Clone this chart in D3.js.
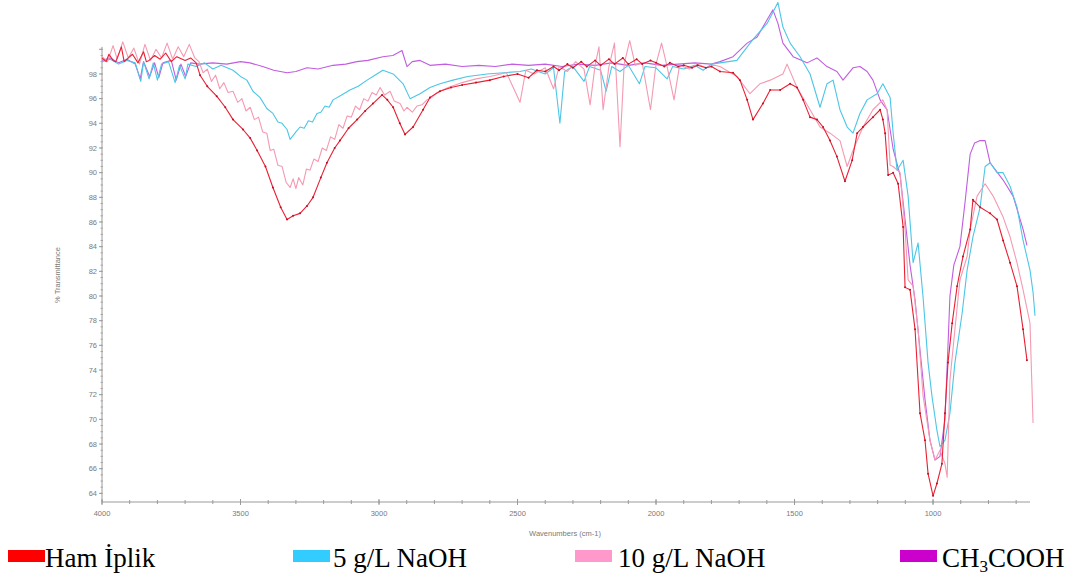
<!DOCTYPE html>
<html><head><meta charset="utf-8">
<script src="https://cdn.jsdelivr.net/npm/d3@7"></script>
<style>
html,body{margin:0;padding:0;background:#fff;}
svg{display:block;}
</style></head>
<body>
<svg id="c" width="1077" height="581"></svg>
<script>
// ---- data (wavenumber cm-1, % transmittance) ----
const xTicks = [4000, 3500, 3000, 2500, 2000, 1500, 1000];
const yTicks = [64,66,68,70,72,74,76,78,80,82,84,86,88,90,92,94,96,98];
const seriesNames = ["Ham İplik", "5 g/L NaOH", "10 g/L NaOH", "CH3COOH"];

const hamIplik = [[4000,99.3],[3985,99.0],[3975,99.6],[3960,99.1],[3950,99.0],[3930,100.2],[3920,99.0],[3910,99.2],[3890,99.6],[3870,98.9],[3850,99.8],[3840,99.0],[3830,99.1],[3810,99.5],[3790,99.2],[3770,99.7],[3750,99.0],[3730,99.4],[3700,99.1],[3680,99.3],[3660,98.9],[3646,97.9],[3620,97.0],[3586,96.2],[3555,95.3],[3527,94.3],[3491,93.5],[3465,92.8],[3440,91.8],[3410,90.5],[3383,88.8],[3355,87.2],[3332,86.2],[3310,86.5],[3285,86.7],[3260,87.3],[3238,88.0],[3210,89.6],[3188,90.8],[3160,92.0],[3141,92.6],[3110,93.6],[3079,94.3],[3050,95.0],[3022,95.6],[2989,96.3],[2970,95.9],[2949,95.3],[2925,94.0],[2906,93.1],[2877,93.7],[2841,95.1],[2816,96.1],[2780,96.6],[2740,96.9],[2700,97.1],[2650,97.3],[2600,97.5],[2550,97.8],[2500,98.0],[2460,97.7],[2430,98.3],[2400,98.2],[2370,98.6],[2350,98.3],[2320,98.8],[2300,98.5],[2270,99.0],[2250,98.6],[2220,99.1],[2200,98.7],[2170,99.2],[2150,98.8],[2120,99.3],[2100,98.8],[2070,99.2],[2050,98.8],[2020,99.1],[2000,98.9],[1970,98.6],[1950,98.9],[1920,98.6],[1900,98.7],[1870,98.5],[1850,98.7],[1820,98.5],[1800,98.6],[1769,98.2],[1722,98.1],[1697,97.5],[1671,95.9],[1650,94.3],[1614,95.6],[1588,96.7],[1552,96.7],[1516,97.2],[1491,96.9],[1469,95.9],[1444,94.5],[1419,94.3],[1397,93.7],[1372,92.6],[1347,91.3],[1318,89.3],[1292,91.0],[1274,93.2],[1253,93.7],[1217,94.5],[1191,95.1],[1181,94.3],[1173,93.2],[1162,89.8],[1144,90.0],[1126,89.1],[1108,85.6],[1101,80.7],[1083,80.5],[1065,77.3],[1047,70.5],[1029,68.3],[1018,65.6],[1000,63.8],[986,64.8],[968,66.4],[957,70.5],[946,74.6],[931,77.8],[913,80.8],[892,83.2],[866,85.4],[856,87.8],[830,87.2],[794,86.7],[769,86.2],[747,84.5],[722,82.7],[697,80.8],[675,77.3],[661,74.8]];

const naoh5 = [[4000,99.0],[3970,99.2],[3940,98.8],[3910,99.1],[3880,98.9],[3860,97.4],[3850,99.0],[3830,97.6],[3815,98.9],[3800,97.5],[3785,98.8],[3760,99.0],[3736,97.3],[3720,98.7],[3700,97.6],[3690,98.8],[3660,98.6],[3630,98.9],[3600,98.4],[3570,98.7],[3527,98.3],[3500,97.8],[3477,97.5],[3455,96.6],[3430,96.1],[3405,95.2],[3383,94.8],[3365,94.1],[3350,94.0],[3332,93.5],[3321,92.7],[3300,93.3],[3285,93.7],[3270,93.6],[3255,94.2],[3240,94.1],[3224,94.8],[3210,94.9],[3195,95.4],[3180,95.3],[3166,95.9],[3135,96.3],[3105,96.7],[3075,97.0],[3043,97.5],[3015,97.9],[2986,98.3],[2949,98.0],[2913,97.2],[2888,96.0],[2852,96.4],[2816,96.9],[2780,97.2],[2733,97.5],[2680,97.8],[2610,98.0],[2550,98.1],[2491,98.2],[2450,98.4],[2400,98.0],[2370,98.5],[2347,94.0],[2330,98.2],[2300,98.6],[2260,97.4],[2240,98.6],[2200,98.3],[2180,96.6],[2160,98.6],[2130,98.2],[2100,98.7],[2060,97.2],[2040,98.6],[2000,98.5],[1960,97.6],[1940,98.6],[1900,98.4],[1860,98.7],[1830,98.3],[1800,98.8],[1769,98.9],[1708,99.1],[1650,100.8],[1599,102.1],[1560,103.8],[1542,101.8],[1516,100.5],[1480,99.4],[1444,98.0],[1408,95.3],[1383,97.2],[1361,97.5],[1336,95.1],[1310,93.7],[1289,93.2],[1264,94.8],[1238,95.9],[1202,96.4],[1181,97.2],[1155,96.1],[1144,93.2],[1130,90.2],[1108,91.0],[1090,88.1],[1072,82.7],[1054,84.3],[1036,79.9],[1018,74.6],[1004,71.9],[986,69.1],[975,67.8],[957,68.3],[939,70.5],[921,74.6],[895,78.6],[877,82.1],[856,84.8],[830,87.2],[812,90.5],[794,90.8],[769,90.0],[747,90.0],[722,88.9],[697,87.2],[675,84.5],[650,82.1],[639,80.3],[632,78.4]];

const naoh10 = [[4000,99.4],[3980,99.0],[3960,100.3],[3945,99.2],[3925,100.6],[3905,99.3],[3885,100.1],[3865,98.8],[3845,100.4],[3825,99.1],[3805,100.0],[3785,99.3],[3765,100.5],[3745,99.2],[3725,100.2],[3705,99.4],[3685,100.4],[3665,99.3],[3650,99.0],[3635,98.1],[3620,98.4],[3605,97.4],[3590,97.9],[3575,96.8],[3560,97.3],[3545,96.5],[3527,96.6],[3510,95.7],[3495,96.0],[3480,95.0],[3465,95.3],[3450,94.3],[3435,94.5],[3420,93.3],[3405,93.2],[3393,91.8],[3380,91.9],[3365,90.6],[3350,90.5],[3335,89.2],[3321,88.8],[3310,89.5],[3300,88.7],[3290,89.6],[3275,89.0],[3262,90.3],[3249,90.2],[3235,91.1],[3220,90.9],[3205,92.0],[3190,91.8],[3175,92.9],[3160,92.7],[3145,93.9],[3130,93.6],[3115,94.6],[3100,94.5],[3085,95.4],[3070,95.1],[3055,96.0],[3040,95.8],[3025,96.5],[3010,96.3],[2996,96.9],[2980,96.3],[2960,96.6],[2945,95.8],[2924,95.6],[2910,95.0],[2899,95.3],[2880,94.9],[2863,95.4],[2845,95.5],[2827,95.9],[2810,96.1],[2790,96.5],[2750,96.9],[2700,97.3],[2650,97.6],[2600,97.8],[2540,98.1],[2491,95.7],[2470,98.3],[2440,98.0],[2400,98.5],[2370,96.8],[2350,98.6],[2320,98.2],[2290,99.0],[2260,98.4],[2238,95.5],[2220,98.7],[2206,100.2],[2191,95.1],[2170,98.6],[2150,100.5],[2130,92.1],[2115,98.8],[2095,100.7],[2075,98.7],[2050,98.9],[2020,95.1],[2000,98.8],[1980,100.5],[1960,98.6],[1935,95.9],[1915,98.7],[1880,98.4],[1850,98.8],[1820,98.5],[1790,98.7],[1769,98.6],[1708,97.8],[1661,96.4],[1625,97.2],[1588,97.5],[1542,98.0],[1527,98.8],[1491,96.9],[1444,95.1],[1408,93.7],[1372,93.2],[1336,92.6],[1310,90.5],[1289,91.8],[1253,93.7],[1217,95.1],[1181,95.9],[1166,95.1],[1155,90.6],[1144,90.5],[1119,90.0],[1101,85.4],[1090,81.3],[1072,80.8],[1054,77.3],[1036,71.9],[1011,68.3],[993,66.7],[975,67.5],[957,66.4],[949,65.3],[939,73.2],[921,77.3],[903,81.3],[877,83.2],[866,85.4],[841,88.1],[812,89.1],[783,88.1],[747,86.4],[722,84.8],[697,82.7],[675,80.5],[650,77.8],[639,69.7]];

const ch3cooh = [[4000,99.1],[3970,99.3],[3940,98.9],[3910,99.2],[3880,98.8],[3862,97.6],[3850,99.0],[3828,97.8],[3810,98.9],[3795,97.7],[3780,98.9],[3750,99.1],[3732,97.5],[3715,98.8],[3698,97.8],[3680,98.9],[3650,98.8],[3600,98.9],[3550,98.8],[3500,99.0],[3466,98.9],[3420,98.6],[3380,98.3],[3332,98.1],[3300,98.2],[3260,98.5],[3220,98.4],[3166,98.7],[3120,98.8],[3080,99.0],[3040,99.1],[2986,99.4],[2950,99.5],[2917,99.9],[2899,98.6],[2880,99.0],[2852,99.1],[2816,98.7],[2760,98.8],[2700,98.6],[2640,98.7],[2580,98.6],[2520,98.8],[2460,98.7],[2400,98.8],[2340,98.6],[2280,98.8],[2220,98.7],[2160,98.9],[2100,98.7],[2040,98.9],[1980,98.7],[1920,98.8],[1860,98.9],[1800,98.8],[1769,99.0],[1722,99.4],[1671,100.5],[1635,101.0],[1599,102.4],[1578,103.2],[1560,102.1],[1542,100.5],[1505,99.4],[1455,98.9],[1419,99.3],[1383,98.6],[1347,98.2],[1325,97.5],[1289,98.5],[1264,98.6],[1238,98.2],[1217,97.5],[1191,95.9],[1173,95.3],[1166,95.1],[1144,91.9],[1119,89.8],[1101,86.2],[1083,82.5],[1065,79.7],[1047,75.6],[1029,71.6],[1011,68.3],[993,66.7],[975,67.0],[957,70.0],[946,76.0],[939,80.0],[925,82.5],[903,84.0],[885,87.5],[866,91.5],[850,92.4],[830,92.6],[812,92.6],[794,90.8],[747,89.4],[711,88.1],[675,85.4],[661,84.1]];

// ---- drawing ----
const svg = d3.select("#c");
const x = d3.scaleLinear().domain([4000, 650]).range([102, 1030]);
const y = d3.scaleLinear().domain([100, 63.3]).range([49.3, 502]);
const axisColor = "#9a9a9a", labelColor = "#7a7a7a";

// axes lines
svg.append("line").attr("x1", x(4000)).attr("x2", x(650)).attr("y1", y(63.3)).attr("y2", y(63.3))
  .attr("stroke", axisColor).attr("stroke-width", 1);
svg.append("line").attr("x1", x(4000)).attr("x2", x(4000)).attr("y1", y(100.2)).attr("y2", y(63.3))
  .attr("stroke", axisColor).attr("stroke-width", 1);

// x ticks
const xMinor = d3.range(4000, 649, -100);
svg.append("g").selectAll("line").data(xMinor).join("line")
  .attr("x1", d => x(d)).attr("x2", d => x(d))
  .attr("y1", y(63.3) - 2).attr("y2", y(63.3) + 2)
  .attr("stroke", axisColor);
svg.append("g").selectAll("line").data(xTicks).join("line")
  .attr("x1", d => x(d)).attr("x2", d => x(d))
  .attr("y1", y(63.3) - 3).attr("y2", y(63.3) + 3).attr("stroke", axisColor);
svg.append("g").selectAll("text").data(xTicks).join("text")
  .attr("x", d => x(d)).attr("y", y(63.3) + 14).attr("text-anchor", "middle")
  .attr("font-family", "Arial, 'Liberation Sans', sans-serif").attr("font-size", 7.5)
  .attr("fill", labelColor).text(d => d);

// y ticks
const yMinor = d3.range(64, 100.01, 0.5);
svg.append("g").selectAll("line").data(yMinor).join("line")
  .attr("x1", x(4000) - 1.5).attr("x2", x(4000) + 1)
  .attr("y1", d => y(d)).attr("y2", d => y(d)).attr("stroke", axisColor).attr("stroke-width", 0.8);
svg.append("g").selectAll("line").data(yTicks.concat([100])).join("line")
  .attr("x1", x(4000) - 3).attr("x2", x(4000))
  .attr("y1", d => y(d)).attr("y2", d => y(d)).attr("stroke", axisColor);
svg.append("g").selectAll("text").data(yTicks).join("text")
  .attr("x", x(4000) - 5).attr("y", d => y(d) + 2.6).attr("text-anchor", "end")
  .attr("font-family", "Arial, 'Liberation Sans', sans-serif").attr("font-size", 7.5)
  .attr("fill", labelColor).text(d => d);

// axis titles
svg.append("text").attr("x", 565).attr("y", 536).attr("text-anchor", "middle")
  .attr("font-family", "Arial, 'Liberation Sans', sans-serif").attr("font-size", 7.5)
  .attr("fill", labelColor).text("Wavenumbers (cm-1)");
svg.append("text").attr("transform", "translate(60,275) rotate(-90)").attr("text-anchor", "middle")
  .attr("font-family", "Arial, 'Liberation Sans', sans-serif").attr("font-size", 7.5)
  .attr("fill", labelColor).text("% Transmittance");

// lines
const line = d3.line().x(d => x(d[0])).y(d => y(d[1]));
const series = [
  {data: ch3cooh, color: "#c25ce0"},
  {data: naoh5, color: "#4cc6e6"},
  {data: naoh10, color: "#f59ab2"},
  {data: hamIplik, color: "#ea2033"}
];
svg.append("g").selectAll("path").data(series).join("path")
  .attr("d", d => line(d.data)).attr("fill", "none")
  .attr("stroke", d => d.color).attr("stroke-width", 1.1).attr("stroke-linejoin", "round");
svg.append("g").selectAll("circle").data(hamIplik.filter(d => d[0] < 3660)).join("circle")
  .attr("cx", d => x(d[0])).attr("cy", d => y(d[1])).attr("r", 1).attr("fill", "#b5142a");

// legend
const legendColors = ["#ff0000", "#33ccff", "#ff99cc", "#cc00cc"];
const legendX = [8, 293, 575, 900];
const lg = svg.append("g");
lg.selectAll("rect").data(legendX).join("rect")
  .attr("x", d => d).attr("y", 550).attr("width", 37).attr("height", 12)
  .attr("fill", (d, i) => legendColors[i]);
const lt = lg.selectAll("text").data(seriesNames).join("text")
  .attr("x", (d, i) => legendX[i] + (i === 0 ? 37 : i === 1 ? 40 : i === 2 ? 43 : 42))
  .attr("y", 567)
  .attr("font-family", "'Liberation Serif', 'Times New Roman', serif").attr("font-size", 27)
  .attr("fill", "#000");
lt.each(function(d) {
  const t = d3.select(this);
  if (d === "CH3COOH") {
    t.append("tspan").text("CH");
    t.append("tspan").attr("font-size", 17).attr("dy", 5).text("3");
    t.append("tspan").attr("dy", -5).text("COOH");
  } else t.text(d);
});
</script>
</body></html>
